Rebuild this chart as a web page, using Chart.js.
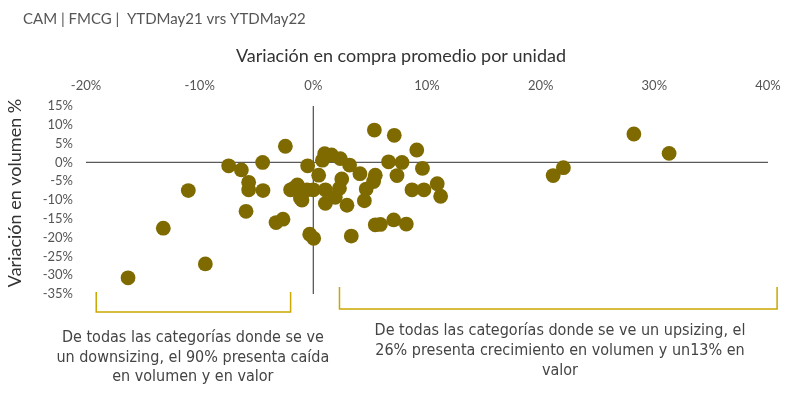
<!DOCTYPE html>
<html>
<head>
<meta charset="utf-8">
<script src="https://cdn.jsdelivr.net/npm/chart.js@4.4.1/dist/chart.umd.min.js"></script>
<style>
  html, body { margin: 0; padding: 0; background: #ffffff; }
  #wrap { width: 800px; height: 397px; position: relative; }
</style>
</head>
<body>
<div id="wrap"><canvas id="c" width="800" height="397"></canvas></div>
<script>
// Variación en compra promedio por unidad (%)
const xValues = [
  -16.3, -13.2, -11.0, -9.5, -7.45, -6.33, -5.69, -5.69, -5.92, -4.46,
  -4.43, -3.28, -2.67, -2.46, -2.0, -1.4, -1.73, -1.14, -1.0, -0.55,
  -0.5, -0.32, 0.03, 0.0, 0.47, 1.0, 1.6, 0.8, 2.37, 3.19,
  2.5, 2.3, 1.93, 1.06, 2.96, 1.06, 4.1, 5.45, 5.3, 4.65,
  4.49, 5.37, 7.12, 9.1, 9.6, 6.62, 7.8, 7.36, 8.68, 9.73,
  10.9, 11.2, 5.45, 5.9, 7.07, 8.18, 3.34, 22.0, 21.1, 28.2,
  31.3
];
// Variación en volumen (%)
const yValues = [
  -30.7, -17.5, -7.5, -27.0, -0.9, -2.0, -5.3, -7.3, -13.0, 0.0,
  -7.5, -16.0, -15.1, 4.3, -7.3, -6.0, -6.9, -9.5, -10.0, -7.3,
  -0.9, -19.1, -20.2, -7.3, -3.4, 2.3, 2.0, 0.6, 1.0, -0.7,
  -4.4, -6.9, -9.3, -10.9, -11.4, -7.3, -3.0, -3.4, -5.1, -7.1,
  -10.2, 8.6, 7.2, 3.3, -1.6, 0.15, 0.0, -3.5, -7.3, -7.3,
  -5.65, -9.0, -16.6, -16.5, -15.3, -16.4, -19.6, -1.4, -3.5, 7.55,
  2.4
];
const xTickValues = [-20, -10, 0, 10, 20, 30, 40];
const xTickLabels = ['-20%', '-10%', '0%', '10%', '20%', '30%', '40%'];
const yTickValues = [15, 10, 5, 0, -5, -10, -15, -20, -25, -30, -35];
const yTickLabels = ['15%', '10%', '5%', '0%', '-5%', '-10%', '-15%', '-20%', '-25%', '-30%', '-35%'];

const titleText = 'CAM | FMCG |  YTDMay21 vrs YTDMay22';
const xTitle = 'Variación en compra promedio por unidad';
const yTitle = 'Variación en volumen %';
const noteLeft = ['De todas las categorías donde se ve', 'un downsizing, el 90% presenta caída', 'en volumen y en valor'];
const noteRight = ['De todas las categorías donde se ve un upsizing, el', '26% presenta crecimiento en volumen y un13% en', 'valor'];

const points = xValues.map((x, i) => ({ x: x, y: yValues[i] }));

const TEXT = '#555555';
const FONT = "Lato, 'Open Sans', sans-serif";

const overlay = {
  id: 'overlay',
  beforeDatasetsDraw(chart) {
    const { ctx, chartArea: a, scales: { x, y } } = chart;
    ctx.save();
    ctx.strokeStyle = '#5a5a5a';
    ctx.lineWidth = 1.3;
    const y0 = y.getPixelForValue(0);
    const x0 = x.getPixelForValue(0);
    ctx.beginPath();
    ctx.moveTo(a.left, y0); ctx.lineTo(a.right, y0);
    ctx.moveTo(x0, a.top); ctx.lineTo(x0, a.bottom);
    ctx.stroke();
    ctx.restore();
  },
  afterDraw(chart) {
    const { ctx, chartArea: a, scales: { x } } = chart;
    ctx.save();
    // main title
    ctx.fillStyle = TEXT;
    ctx.font = '15px ' + FONT;
    ctx.textAlign = 'left';
    ctx.textBaseline = 'middle';
    ctx.fillText(titleText, 23, 19);
    // axis titles
    ctx.fillStyle = '#333333';
    ctx.font = '18px ' + FONT;
    ctx.textAlign = 'center';
    ctx.fillText(xTitle, 401, 56);
    ctx.save();
    ctx.translate(15, 193);
    ctx.rotate(-Math.PI / 2);
    ctx.fillText(yTitle, 0, 0);
    ctx.restore();
    // brackets
    ctx.strokeStyle = '#c9a800';
    ctx.lineWidth = 1.5;
    function bracket(v1, v2, top, bottom) {
      const p1 = x.getPixelForValue(v1), p2 = x.getPixelForValue(v2);
      ctx.beginPath();
      ctx.moveTo(p1, top); ctx.lineTo(p1, bottom); ctx.lineTo(p2, bottom); ctx.lineTo(p2, top);
      ctx.stroke();
    }
    bracket(-19.1, -2.0, a.bottom - 2, a.bottom + 18);
    bracket(2.3, 40.8, a.bottom - 7, a.bottom + 15);
    // notes
    ctx.fillStyle = '#444444';
    ctx.font = "16px 'Liberation Sans Narrow', 'DejaVu Sans Condensed', sans-serif";
    ctx.textAlign = 'center';
    ctx.textBaseline = 'middle';
    const lc = x.getPixelForValue(-10.6);
    noteLeft.forEach((t, i) => ctx.fillText(t, lc, a.bottom + 44 + i * 19.5));
    const rc = x.getPixelForValue(21.7);
    noteRight.forEach((t, i) => ctx.fillText(t, rc, a.bottom + 37 + i * 20));
    ctx.restore();
  }
};

new Chart(document.getElementById('c'), {
  type: 'scatter',
  data: {
    datasets: [{
      data: points,
      backgroundColor: '#7f6a00',
      borderColor: '#7f6a00',
      borderWidth: 0,
      pointRadius: 7.4,
      pointHoverRadius: 7.4
    }]
  },
  options: {
    responsive: false,
    animation: false,
    events: [],
    layout: { padding: { left: 0, right: 32, top: 0, bottom: 103 } },
    plugins: {
      legend: { display: false },
      tooltip: { enabled: false },
      title: { display: false }
    },
    scales: {
      x: {
        type: 'linear',
        position: 'top',
        min: -20, max: 40,
        afterBuildTicks(s) { s.ticks = xTickValues.map(v => ({ value: v })); },
        afterFit(s) { s.height = 106; },
        grid: { display: false, drawTicks: false },
        border: { display: false },
        ticks: {
          color: TEXT,
          font: { family: FONT, size: 13 },
          padding: 12,
          maxRotation: 0,
          callback: (v) => xTickLabels[xTickValues.indexOf(v)]
        },
        title: { display: false }
      },
      y: {
        type: 'linear',
        position: 'left',
        min: -35, max: 15,
        afterBuildTicks(s) { s.ticks = yTickValues.map(v => ({ value: v })); },
        afterFit(s) { s.width = 86; },
        grid: { display: false, drawTicks: false },
        border: { display: false },
        ticks: {
          color: TEXT,
          font: { family: FONT, size: 13 },
          padding: 13,
          callback: (v) => yTickLabels[yTickValues.indexOf(v)]
        },
        title: { display: false }
      }
    }
  },
  plugins: [overlay]
});
</script>
</body>
</html>
